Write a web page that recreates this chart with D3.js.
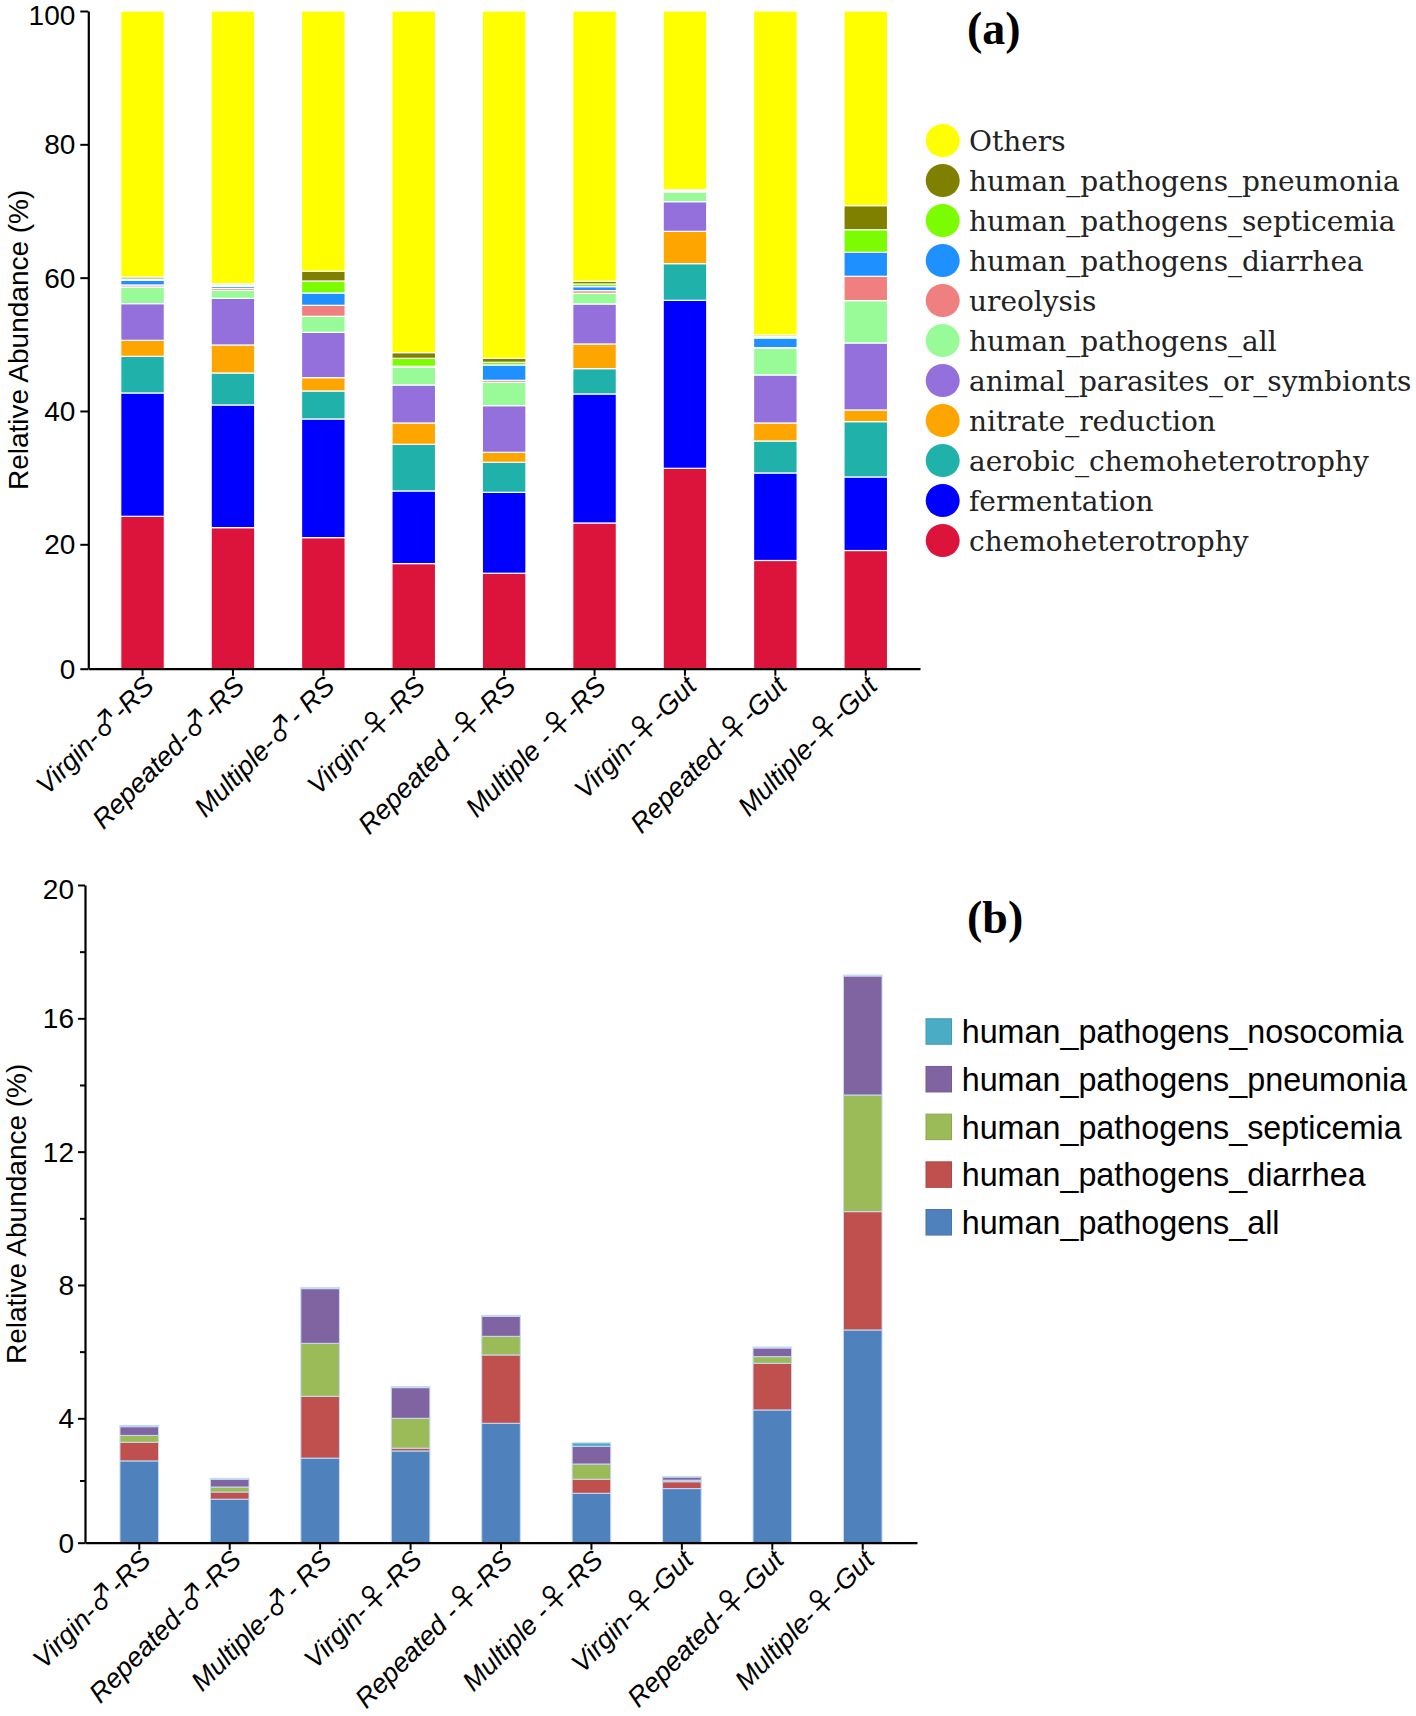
<!DOCTYPE html>
<html lang="en">
<head>
<meta charset="utf-8">
<script src="https://d3js.org/d3.v7.min.js"></script>
<style>
  body { margin: 0; background: #fff; }
  svg { display: block; }
</style>
</head>
<body>
<script>

// groups on the x axis (same for both panels)
var groups = ["Virgin-\u2642-RS", "Repeated-\u2642-RS", "Multiple-\u2642- RS",
              "Virgin-\u2640-RS", "Repeated -\u2640-RS", "Multiple -\u2640-RS",
              "Virgin-\u2640-Gut", "Repeated-\u2640-Gut", "Multiple-\u2640-Gut"];

// panel (a) - FAPROTAX functions, % relative abundance, bottom to top
var chemoheterotrophy  = [24.2, 22.5, 21.0, 16.9, 15.35, 23.2, 31.4, 17.4, 19.0];
var fermentation       = [18.5, 18.4, 17.8, 11.1, 12.45, 19.35, 25.2, 13.3, 11.1];
var aerobicChemo       = [5.5, 4.8, 4.2, 7.0, 4.5, 3.8, 5.5, 4.8, 8.3];
var nitrateReduction   = [2.4, 4.2, 2.0, 3.2, 1.5, 3.7, 4.85, 2.7, 1.75];
var animalParasites    = [5.5, 7.0, 6.8, 5.7, 7.0, 6.0, 4.45, 7.2, 10.05];
var pathogensAll       = [2.5, 1.2, 2.4, 2.7, 3.5, 1.6, 1.45, 4.0, 6.35];
var ureolysis          = [0.3, 0.3, 1.65, 0.05, 0.3, 0.4, 0.1, 0.1, 3.65];
var pathogensDiarrhea  = [0.7, 0.3, 1.85, 0.05, 2.3, 0.6, 0.1, 1.45, 3.6];
var pathogensSepticemia= [0.2, 0.2, 1.8, 1.2, 0.4, 0.4, 0.1, 0.2, 3.4];
var pathogensPneumonia = [0.3, 0.2, 1.45, 0.85, 0.6, 0.4, 0.05, 0.25, 3.6];
var others             = [39.9, 40.9, 39.05, 51.25, 52.1, 40.55, 26.8, 48.6, 29.2];

// panel (b) - human pathogens only, bottom to top
var bAll        = [2.63, 1.40, 2.72, 2.95, 3.84, 1.59, 1.74, 4.25, 6.65];
var bDiarrhea   = [0.60, 0.23, 1.94, 0.09, 2.06, 0.45, 0.22, 1.40, 3.55];
var bSepticemia = [0.22, 0.16, 1.59, 0.96, 0.56, 0.49, 0.05, 0.20, 3.50];
var bPneumonia  = [0.28, 0.25, 1.64, 0.92, 0.60, 0.57, 0.10, 0.26, 3.57];
var bNosocomia  = [0.04, 0.03, 0.03, 0.03, 0.03, 0.11, 0.02, 0.03, 0.03];

var ticksA = [0, 20, 40, 60, 80, 100];
var ticksB = [0, 4, 8, 12, 16, 20];
var minorB = [2, 6, 10, 14, 18];

var seriesA = [
  {key: "chemoheterotrophy", vals: chemoheterotrophy, color: "#DC143C"},
  {key: "fermentation", vals: fermentation, color: "#0000FF"},
  {key: "aerobic_chemoheterotrophy", vals: aerobicChemo, color: "#20B2AA"},
  {key: "nitrate_reduction", vals: nitrateReduction, color: "#FFA500"},
  {key: "animal_parasites_or_symbionts", vals: animalParasites, color: "#9370DB"},
  {key: "human_pathogens_all", vals: pathogensAll, color: "#98FB98"},
  {key: "ureolysis", vals: ureolysis, color: "#F08080"},
  {key: "human_pathogens_diarrhea", vals: pathogensDiarrhea, color: "#1E90FF"},
  {key: "human_pathogens_septicemia", vals: pathogensSepticemia, color: "#7CFC00"},
  {key: "human_pathogens_pneumonia", vals: pathogensPneumonia, color: "#808000"},
  {key: "Others", vals: others, color: "#FFFF00"}
];

var seriesB = [
  {key: "human_pathogens_all", vals: bAll, color: "#4F81BD"},
  {key: "human_pathogens_diarrhea", vals: bDiarrhea, color: "#C0504D"},
  {key: "human_pathogens_septicemia", vals: bSepticemia, color: "#9BBB59"},
  {key: "human_pathogens_pneumonia", vals: bPneumonia, color: "#8064A2"},
  {key: "human_pathogens_nosocomia", vals: bNosocomia, color: "#4BACC6"}
];

var sans = "'Liberation Sans', Arial, sans-serif";

var svg = d3.select("body").append("svg")
    .attr("width", 1416)
    .attr("height", 1716)
    .style("background", "#fff");

function table(series) {
  return groups.map(function(g, i) {
    var row = {group: g};
    series.forEach(function(s) { row[s.key] = s.vals[i]; });
    return row;
  });
}

// split the label so the sex symbol gets its own thin upright glyph
function labelParts(sel) {
  sel.each(function(d) {
    var t = d3.select(this).text("");
    d.split(/([\u2640\u2642])/).forEach(function(part) {
      if (!part) return;
      var sym = part === "\u2640" || part === "\u2642";
      t.append("tspan")
        .attr("font-family", sym ? "'Noto Sans CJK JP', 'Noto Sans CJK SC', sans-serif" : sans)
        .attr("font-style", sym ? "normal" : "italic")
        .attr("font-size", sym ? 29 : 27)
        .attr("fill", "#000")
        .text(part);
    });
  });
}

function drawPanel(opt) {
  var x = d3.scaleBand().domain(groups)
      .range([opt.x0, opt.x1]).paddingInner(0).paddingOuter(0.1);
  // the published axis is slightly squeezed in the lowest interval, so the scale is piecewise
  var y = d3.scaleLinear().domain(opt.ydom).range(opt.yrange);

  var stack = d3.stack().keys(opt.series.map(function(s) { return s.key; }));
  var layers = stack(table(opt.series));

  var g = svg.append("g");

  g.selectAll("g.layer")
    .data(layers)
    .enter().append("g")
      .attr("class", "layer")
      .attr("fill", function(d, i) { return opt.series[i].color; })
    .selectAll("rect")
    .data(function(d) { return d; })
    .enter().append("rect")
      .attr("x", function(d) { return x(d.data.group) + (x.bandwidth() - opt.barW) / 2; })
      .attr("width", opt.barW)
      .attr("y", function(d) { return y(d[1]); })
      .attr("height", function(d) { return Math.max(0, y(d[0]) - y(d[1])); })
      .attr("stroke", opt.stroke)
      .attr("stroke-width", opt.strokeW);

  // y axis
  var yAxis = g.append("g")
      .attr("transform", "translate(" + opt.x0 + ",0)")
      .call(d3.axisLeft(y).tickValues(opt.ticks).tickSize(opt.tickLen).tickSizeOuter(0)
        .tickPadding(opt.tickPad).tickFormat(d3.format("d")));
  yAxis.select(".domain").attr("stroke", "#000").attr("stroke-width", 2.2);
  yAxis.selectAll(".tick line").attr("stroke", "#000").attr("stroke-width", 2);
  yAxis.selectAll("text")
      .attr("font-family", sans).attr("font-size", 28).attr("fill", "#000")
      .attr("dy", function(d) { return d === opt.ticks[opt.ticks.length - 1] ? "0.48em" : "0.34em"; });

  if (opt.minor) {
    g.append("g")
      .attr("transform", "translate(" + opt.x0 + ",0)")
      .call(d3.axisLeft(y).tickValues(opt.minor).tickSize(5).tickFormat(""))
      .call(function(a) { a.select(".domain").remove(); })
      .selectAll(".tick line").attr("stroke", "#000").attr("stroke-width", 2);
  }

  // x axis
  var xAxis = g.append("g")
      .attr("transform", "translate(0," + opt.yrange[0] + ")")
      .call(d3.axisBottom(x).tickSize(7).tickSizeOuter(0));
  xAxis.select(".domain").attr("stroke", "#000").attr("stroke-width", 2.2);
  xAxis.selectAll(".tick line").attr("stroke", "#000").attr("stroke-width", 2);
  xAxis.selectAll("text")
      .attr("y", 0).attr("dy", 0).attr("x", 0)
      .attr("transform", "translate(13,19) rotate(-45)")
      .style("text-anchor", "end")
      .call(labelParts);

  // y title
  var mid = (opt.yrange[0] + opt.yrange[opt.yrange.length - 1]) / 2;
  svg.append("text")
      .attr("transform", "translate(" + opt.titleX + "," + mid + ") rotate(-90)")
      .attr("text-anchor", "middle")
      .attr("font-family", sans).attr("font-size", 28)
      .text("Relative Abundance (%)");

  // panel letter
  svg.append("text")
      .attr("x", 967).attr("y", opt.letterY)
      .attr("font-family", "'Liberation Serif', 'Times New Roman', serif")
      .attr("font-weight", "bold").attr("font-size", 46)
      .text(opt.letter);
}

drawPanel({
  series: seriesA, x0: 88.3, x1: 920, barW: 43.6,
  ydom: [0, 20, 100], yrange: [668.7, 544.3, 11],
  ticks: ticksA, tickLen: 8, tickPad: 5,
  stroke: "#fff", strokeW: 1.2,
  titleX: 28, letter: "(a)", letterY: 44
});

drawPanel({
  series: seriesB, x0: 85, x1: 917, barW: 38.6,
  ydom: [0, 4, 20], yrange: [1542.7, 1418.3, 885],
  ticks: ticksB, minor: minorB, tickLen: 7, tickPad: 4,
  stroke: "#c8dbf4", strokeW: 1,
  titleX: 26, letter: "(b)", letterY: 933
});

// legend (a): round swatches, serif labels, top entry = top of stack
var legA = svg.append("g").selectAll("g")
    .data(seriesA.slice().reverse())
    .enter().append("g")
      .attr("transform", function(d, i) { return "translate(0," + (140.5 + i * 40.0) + ")"; });
legA.append("ellipse")
    .attr("cx", 942.7).attr("cy", 0).attr("rx", 17).attr("ry", 16.5)
    .attr("fill", function(d) { return d.color; });
legA.append("text")
    .attr("x", 969).attr("dy", "0.36em")
    .attr("font-family", "'DejaVu Serif', serif").attr("font-size", 28)
    .attr("fill", "#222")
    .text(function(d) { return d.key; });

// legend (b): square swatches
var legB = svg.append("g").selectAll("g")
    .data(seriesB.slice().reverse())
    .enter().append("g")
      .attr("transform", function(d, i) { return "translate(0," + (1031.5 + i * 47.7) + ")"; });
legB.append("rect")
    .attr("x", 926).attr("y", -12.75).attr("width", 25.5).attr("height", 25.5)
    .attr("fill", function(d) { return d.color; })
    .attr("stroke", function(d) { return d3.color(d.color).darker(0.3); })
    .attr("stroke-width", 1);
legB.append("text")
    .attr("x", 961.7).attr("dy", "0.36em")
    .attr("font-family", sans).attr("font-size", 32.3)
    .attr("fill", "#000")
    .text(function(d) { return d.key; });

</script>
</body>
</html>
